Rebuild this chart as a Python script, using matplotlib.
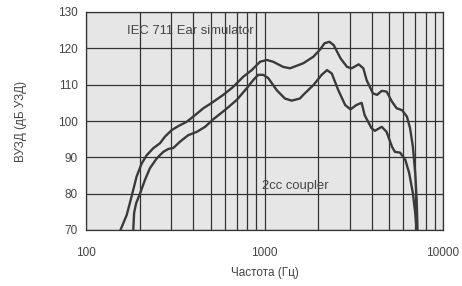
import matplotlib.pyplot as plt
from matplotlib import rcParams

rcParams['font.family'] = ['Liberation Sans', 'DejaVu Sans']

# IEC 711 Ear simulator (верхняя кривая)
ear_f = [156, 169, 180, 192, 205, 219, 238, 260, 277, 302, 329, 367, 408, 454,
         496, 517, 588, 668, 761, 848, 944, 1030, 1120, 1270, 1390, 1650, 1880,
         2050, 2170, 2310, 2440, 2670, 2900, 3080, 3370, 3580, 3730, 4050, 4270,
         4540, 4830, 5180, 5500, 5890, 6280, 6540, 6780, 6990, 7120, 7200]
ear_db = [70, 74.1, 79.2, 84.7, 88.3, 90.6, 92.5, 93.9, 95.7, 97.5, 98.6, 99.8,
          101.6, 103.5, 104.7, 105.3, 107.2, 109.4, 112.2, 114, 116.3, 116.8,
          116.3, 114.9, 114.5, 115.9, 117.7, 119.7, 121.4, 121.8, 120.9, 117.2,
          114.9, 114.5, 115.6, 114.5, 111.3, 107.6, 107.2, 108.3, 108.1, 105.3,
          103.5, 103, 101.2, 98, 92.9, 85.6, 78.3, 70]

# 2cc coupler (нижняя кривая)
cpl_f = [184, 186, 191, 201, 214, 228, 249, 271, 289, 309, 336, 374, 417, 465,
         517, 600, 699, 795, 866, 922, 985, 1050, 1170, 1300, 1420, 1580, 1650,
         1880, 2090, 2240, 2380, 2590, 2830, 3030, 3270, 3500, 3640, 3980, 4150,
         4540, 4830, 5180, 5380, 5750, 6150, 6470, 6780, 6990, 7120]
cpl_db = [70, 74.7, 77.4, 80.1, 83.8, 87, 89.7, 91.5, 92.3, 92.6, 94.3, 96.1,
          97, 98.4, 100.5, 103, 105.8, 109, 111.3, 112.7, 112.7, 111.8, 108.5,
          106.2, 105.6, 106.2, 107.2, 109.9, 112.7, 114, 113.1, 108.5, 104.4,
          103.2, 104.4, 105, 101.6, 98, 97.3, 98.4, 97, 92.9, 91.5, 91.3, 89.3,
          85.6, 80.1, 74.6, 70]

fig = plt.figure(figsize=(4.62, 2.86), dpi=100)
ax = fig.add_axes([86 / 462, 1 - 230 / 286, 357 / 462, 218 / 286])
ax.set_facecolor('#e6e6e6')

ax.plot(ear_f, ear_db, color='#3a3a3a', lw=1.7, solid_joinstyle='round')
ax.plot(cpl_f, cpl_db, color='#3a3a3a', lw=1.7, solid_joinstyle='round')

ax.set_xscale('log')
ax.set_xlim(100, 10000)
ax.set_ylim(70, 130)
ax.set_yticks(range(70, 131, 10))
ax.set_xticks([100, 1000, 10000])
ax.set_xticklabels(['100', '1000', '10000'])
ax.minorticks_on()
ax.yaxis.set_minor_locator(plt.NullLocator())
ax.grid(True, which='both', axis='x', color='#333333', lw=0.9)
ax.grid(True, which='major', axis='y', color='#333333', lw=0.9)
ax.set_axisbelow(True)
ax.tick_params(which='both', length=0, labelsize=8.5, labelcolor='#444444', pad=6)
ax.tick_params(axis='x', pad=12)
for s in ax.spines.values():
    s.set_color('#333333')
    s.set_linewidth(0.9)

ax.text(170, 124.8, 'IEC 711 Ear simulator', fontsize=9.4, color='#444444',
        va='center', ha='left')
ax.text(968, 82, '2cc coupler', fontsize=9.4, color='#444444',
        va='center', ha='left')

ax.set_xlabel('Частота (Гц)', fontsize=8.5, color='#444444', labelpad=6)
ax.set_ylabel('ВУЗД (дБ УЗД)', fontsize=8.5, color='#444444', labelpad=22)

fig.savefig('out.png', dpi=100)
